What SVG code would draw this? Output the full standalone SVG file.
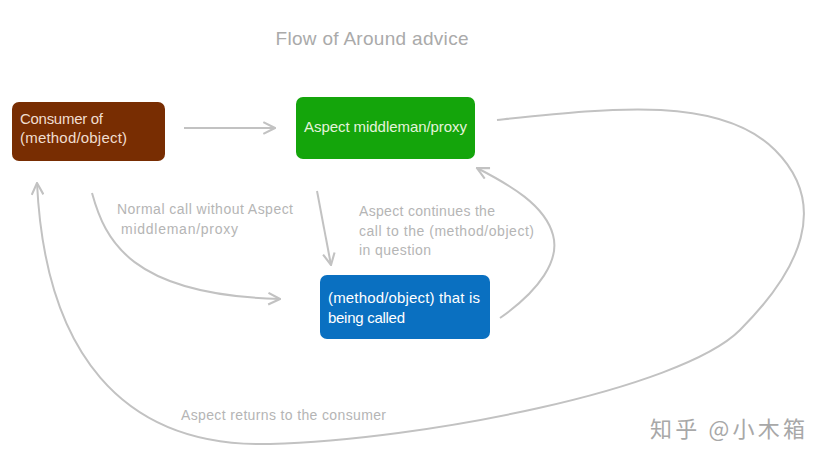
<svg xmlns="http://www.w3.org/2000/svg" width="823" height="461" viewBox="0 0 823 461">
<style>
.conn{fill:none;stroke:#C2C2C2;stroke-width:2}
.lbl{font-family:"Liberation Sans",Arial,sans-serif;font-size:14px;fill:#B5B5B5}
.nt{font-family:"Liberation Sans",Arial,sans-serif;font-size:15px}
</style>
<defs>
<marker id="ah" markerUnits="userSpaceOnUse" markerWidth="14" markerHeight="14" viewBox="0 0 12 12" refX="11" refY="6" orient="auto">
<path d="M1,1 L11,6 L1,11" fill="none" stroke="#C2C2C2" stroke-width="1.8"/>
</marker>
</defs>
<rect width="823" height="461" fill="#FFFFFF"/>
<text x="372" y="45" text-anchor="middle" font-family="Liberation Sans,Arial,sans-serif" font-size="19" fill="#AAAAAA" textLength="193">Flow of Around advice</text>
<g id="consumer">
<rect x="12" y="102" width="153" height="59" rx="7" fill="#782D02"/>
<text class="nt" x="20" y="124" fill="#F0DDD0" textLength="83">Consumer of</text>
<text class="nt" x="20" y="143" fill="#F0DDD0" textLength="107">(method/object)</text>
</g>
<g id="proxy">
<rect x="296" y="97" width="179" height="62" rx="7" fill="#14A50B"/>
<text class="nt" x="385.5" y="132" text-anchor="middle" fill="#E4F3DC" textLength="163">Aspect middleman/proxy</text>
</g>
<g id="target">
<rect x="320" y="275" width="170" height="64" rx="7" fill="#0A70C1"/>
<text class="nt" x="328" y="303" fill="#FFFFFF" textLength="152">(method/object) that is</text>
<text class="nt" x="328" y="323" fill="#FFFFFF" textLength="77">being called</text>
</g>
<g id="connectors">
<line class="conn" x1="184" y1="128" x2="275" y2="128" marker-end="url(#ah)"/>
<line class="conn" x1="317" y1="191" x2="331" y2="265" marker-end="url(#ah)"/>
<path class="conn" d="M92,193 C105,240 130,295 280,299" marker-end="url(#ah)"/>
<path class="conn" d="M500,318 C540,290 560,260 553,235 C545,205 510,185 477,168" marker-end="url(#ah)"/>
<path class="conn" d="M497,120 C610,108 720,95 775,150 S800,270 740,330 S420,440 270,444 S45,350 37,183" marker-end="url(#ah)"/>
</g>
<g id="labels">
<text class="lbl" x="117" y="214" textLength="176">Normal call without Aspect</text>
<text class="lbl" x="121" y="234" textLength="117">middleman/proxy</text>
<text class="lbl" x="359" y="216" textLength="136">Aspect continues the</text>
<text class="lbl" x="359" y="236" textLength="175">call to the (method/object)</text>
<text class="lbl" x="359" y="255" textLength="72">in question</text>
<text class="lbl" x="181" y="420" font-size="13" textLength="205">Aspect returns to the consumer</text>
</g>
<text x="650" y="437" font-family="Noto Sans CJK SC,sans-serif" font-size="22" fill="#A8A8A8" textLength="155">知乎 @小木箱</text>
</svg>
